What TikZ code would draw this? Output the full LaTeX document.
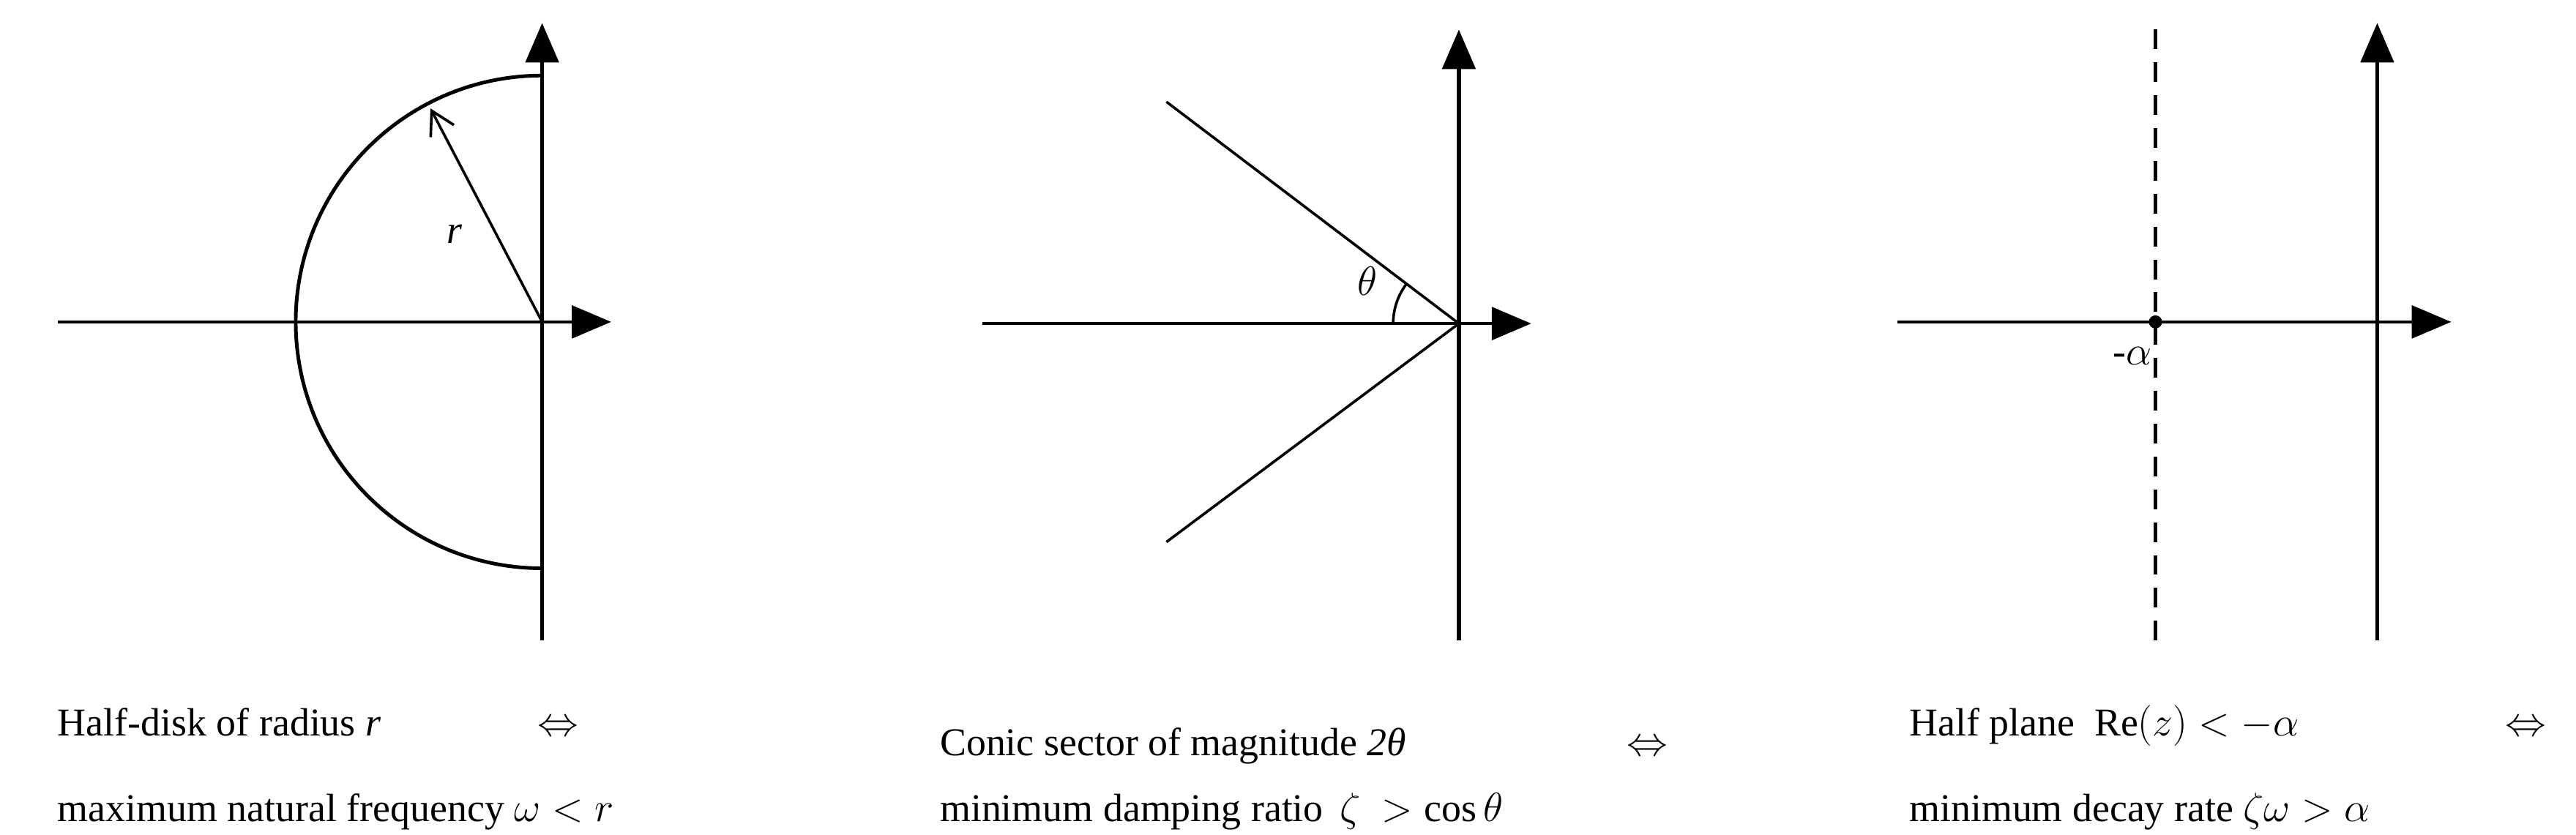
\documentclass[tikz,border=0pt]{standalone}
\usepackage{fontspec}
\setmainfont{Liberation Serif}
\usetikzlibrary{arrows.meta}
\begin{document}
\begin{tikzpicture}[x=1pt,y=-1pt,
  axis/.style={line width=2.4pt,-{Triangle[length=24pt,width=20pt]}},
  thin/.style={line width=1.6pt},
  lbl/.style={font=\fontsize{24}{28}\selectfont,anchor=base west,inner sep=0pt}]
\useasboundingbox (0,0) rectangle (1568,508);
% panel 1
\coordinate (o1) at (330,196);
\draw[axis] (330,390) -- (330,14);
\draw[thin,-{Triangle[length=24pt,width=20pt]}] (35,196) -- (372,196);
\draw[line width=2.2pt] (330,46) arc[start angle=-90,end angle=-270,radius=150];
\draw[thin,-{Straight Barb[length=14pt,width=16pt]}] (o1) -- (262,66);
\node[lbl] at (272,148) {\itshape r};
\node[lbl] (t1) at (35,448) {Half-disk of radius \textit{r}};
\node[lbl] at (327,448) {$\Leftrightarrow$};
\node[lbl] (t2) at (35,500) {maximum natural frequency $\omega<r$};
% panel 2
\coordinate (o2) at (888,197);
\draw[axis] (888,390) -- (888,18);
\draw[thin,-{Triangle[length=24pt,width=20pt]}] (598,197) -- (932,197);
\draw[thin] (o2) -- (710,62);
\draw[thin] (o2) -- (710,330);
\draw[thin] (848,197) arc[start angle=180,end angle=217,radius=40];
\node[lbl] at (826,180) {$\theta$};
\node[lbl] at (572,460) {Conic sector of magnitude \textit{2θ}};
\node[lbl] at (990,460) {$\Leftrightarrow$};
\node[lbl] at (572,500) {minimum damping ratio\, $\zeta\ >\cos\theta$};
% panel 3
\draw[axis] (1447,390) -- (1447,14);
\draw[thin,-{Triangle[length=24pt,width=20pt]}] (1155,196) -- (1492,196);
\draw[line width=2.2pt,dash pattern=on 12pt off 8pt] (1312,18) -- (1312,390);
\fill (1312,196) circle[radius=4];
\node[lbl] at (1286,222) {-$\alpha$};
\node[lbl] at (1162,448) {Half plane\ \ Re$\big(z\big)<-\alpha$};
\node[lbl] at (1525,448) {$\Leftrightarrow$};
\node[lbl] at (1162,500) {minimum decay rate $\zeta\omega>\alpha$};
\end{tikzpicture}
\end{document}
